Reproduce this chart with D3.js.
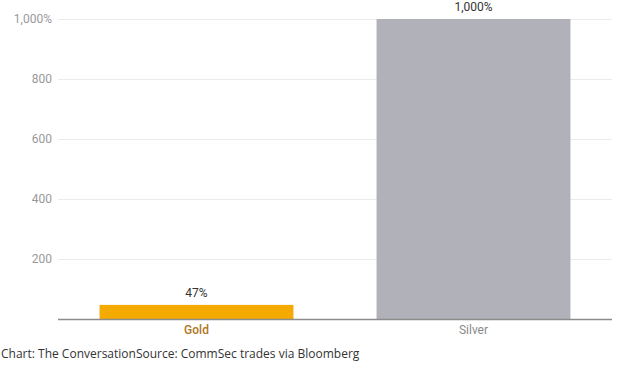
<!DOCTYPE html>
<html>
<head>
<meta charset="utf-8">
<script src="https://cdn.jsdelivr.net/npm/d3@7/dist/d3.min.js"></script>
<style>
  body { margin: 0; background: #fff; }
  svg { display: block; }
</style>
</head>
<body>
<svg id="chart" width="621" height="372"></svg>
<script>
var categories = ['Gold', 'Silver'];
var values = [47, 1000];
var barColors = ['#f5aa00', '#b1b1b9'];
var labelColors = ['#b07624', '#8a8a8a'];
var yTicks = [200, 400, 600, 800, 1000];
var footer = 'Chart: The ConversationSource: CommSec trades via Bloomberg';

(function(){
  var svg = d3.select('#chart');
  var mLeft = 58, mRight = 612, mTop = 19, mBottom = 319;

  var x = d3.scaleBand().domain(categories).range([mLeft, mRight])
    .paddingInner(0.3).paddingOuter(0.15);
  var y = d3.scaleLinear().domain([0, 1000]).range([mBottom, mTop]);

  var fmt = d3.format(',');

  // grid
  svg.append('g').selectAll('line').data(yTicks).join('line')
    .attr('x1', mLeft).attr('x2', mRight)
    .attr('y1', function(d){ return y(d) + 0.5; }).attr('y2', function(d){ return y(d) + 0.5; })
    .attr('stroke', '#ebebeb').attr('stroke-width', 1);

  svg.append('g').selectAll('text').data(yTicks).join('text')
    .attr('x', 52).attr('y', function(d){ return y(d); }).attr('dy', '0.35em')
    .attr('text-anchor', 'end')
    .attr('font-family', 'Roboto, sans-serif').attr('font-size', 12).attr('fill', '#999')
    .text(function(d){ return d === 1000 ? fmt(d) + '%' : fmt(d); });

  // bars
  svg.append('g').selectAll('rect').data(values).join('rect')
    .attr('x', function(d, i){ return x(categories[i]); })
    .attr('width', x.bandwidth())
    .attr('y', function(d){ return y(d); })
    .attr('height', function(d){ return mBottom - y(d); })
    .attr('fill', function(d, i){ return barColors[i]; });

  // value labels
  svg.append('g').selectAll('text').data(values).join('text')
    .attr('x', function(d, i){ return x(categories[i]) + x.bandwidth() / 2; })
    .attr('y', function(d){ return y(d) - 8; })
    .attr('text-anchor', 'middle')
    .attr('font-family', 'Roboto, sans-serif').attr('font-size', 12).attr('fill', '#333')
    .text(function(d){ return fmt(d) + '%'; });

  // baseline
  svg.append('line').attr('x1', mLeft).attr('x2', mRight)
    .attr('y1', mBottom + 0.5).attr('y2', mBottom + 0.5)
    .attr('stroke', '#8c8c8c').attr('stroke-width', 1.5);

  // category labels
  svg.append('g').selectAll('text').data(categories).join('text')
    .attr('x', function(d){ return x(d) + x.bandwidth() / 2; })
    .attr('y', 334)
    .attr('text-anchor', 'middle')
    .attr('font-family', 'Roboto, sans-serif').attr('font-size', 12)
    .attr('font-weight', function(d, i){ return i === 0 ? 500 : 400; })
    .attr('fill', function(d, i){ return labelColors[i]; })
    .text(function(d){ return d; });

  svg.append('text').attr('x', 1).attr('y', 358)
    .attr('font-family', '"Open Sans", sans-serif').attr('font-size', 12).attr('fill', '#333')
    .text(footer);
})();
</script>
</body>
</html>
